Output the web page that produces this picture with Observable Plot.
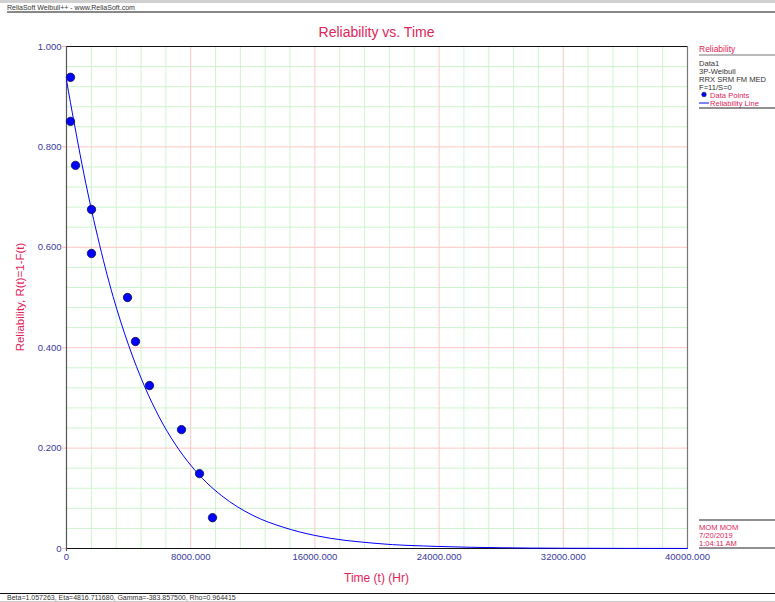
<!DOCTYPE html>
<html>
<head>
<meta charset="utf-8">
<script src="https://cdn.jsdelivr.net/npm/d3@7"></script>
<script src="https://cdn.jsdelivr.net/npm/@observablehq/plot@0.6"></script>
<style>
  html, body { margin: 0; padding: 0; background: #fff; }
  svg { display: block; }
</style>
</head>
<body>
<div id="chart"></div>
<script>
// ---- data ----
const pointTimes = [258, 258, 580, 1610, 1610, 3930, 4444, 5346, 7407, 8567, 9404];
const pointRel   = [0.9386, 0.8509, 0.7632, 0.6754, 0.5877, 0.5000, 0.4123, 0.3246, 0.2368, 0.1491, 0.0614];

const lineTimes = [0, 250, 500, 1000, 1500, 2000, 2500, 3000, 4000, 5000, 6000, 7000, 8000, 9000, 10000, 12000, 14000, 16000, 20000, 24000, 28000, 32000, 40000];
const lineRel   = [0.933, 0.889, 0.847, 0.765, 0.690, 0.622, 0.559, 0.502, 0.405, 0.325, 0.260, 0.208, 0.166, 0.132, 0.105, 0.066, 0.042, 0.026, 0.010, 0.004, 0.0015, 0.0005, 0.0001];

const xMajorTicks = [0, 8000, 16000, 24000, 32000, 40000];
const xTickLabels = ["0", "8000.000", "16000.000", "24000.000", "32000.000", "40000.000"];
const yMajorTicks = [0, 0.2, 0.4, 0.6, 0.8, 1.0];
const yTickLabels = ["0", "0.200", "0.400", "0.600", "0.800", "1.000"];
const xMinorStep = 1600;
const yMinorStep = 0.04;

const titleText = "Reliability vs. Time";
const xLabel = "Time (t) (Hr)";
const yLabel = "Reliability, R(t)=1-F(t)";
const headerText = "ReliaSoft Weibull++ - www.ReliaSoft.com";
const footerText = "Beta=1.057263, Eta=4816.711680, Gamma=-383.857500, Rho=0.964415";
const legendTitle = "Reliability";
const legendInfo = ["Data1", "3P-Weibull", "RRX SRM FM MED", "F=11/S=0"];
const legendItems = ["Data Points", "Reliability Line"];
const stampLines = ["MOM MOM", "7/20/2019", "1:04:11 AM"];

// ---- derived tables ----
const points = pointTimes.map((t, i) => ({t, r: pointRel[i]}));
const curve = lineTimes.map((t, i) => ({t, r: lineRel[i]}));
const xMinor = d3.range(xMinorStep, 40000, xMinorStep).filter(v => v % 8000 !== 0);
const xMajorGrid = xMajorTicks.filter(v => v > 0 && v < 40000);
const yMinor = d3.range(1, 25).map(i => +(i * yMinorStep).toFixed(2)).filter(v => Math.abs(v / 0.2 - Math.round(v / 0.2)) > 1e-6);
const yMajorGrid = yMajorTicks.filter(v => v > 0 && v < 1);

const CRIMSON = "#e0245a";
const NAVY = "#3a3a9e";
const FONT = "Liberation Sans, Arial, sans-serif";

const chart = Plot.plot({
  width: 775,
  height: 602,
  marginLeft: 66,
  marginRight: 88,
  marginTop: 46,
  marginBottom: 54,
  style: {fontFamily: FONT, fontSize: "9.5px", background: "#fff"},
  x: {domain: [0, 40000], label: null},
  y: {domain: [0, 1], label: null},
  marks: [
    Plot.gridX(xMinor, {stroke: "#cdf5cd", strokeOpacity: 1}),
    Plot.gridY(yMinor, {stroke: "#cdf5cd", strokeOpacity: 1}),
    Plot.gridX(xMajorGrid, {stroke: "#ffc6c6", strokeOpacity: 1}),
    Plot.gridY(yMajorGrid, {stroke: "#ffc6c6", strokeOpacity: 1}),
    Plot.axisX(xMajorTicks, {
      tickSize: 0, tickPadding: 5,
      tickFormat: d => xTickLabels[xMajorTicks.indexOf(d)],
      fill: NAVY, stroke: NAVY, label: null
    }),
    Plot.axisY(yMajorTicks, {
      tickSize: 4, tickPadding: 1,
      tickFormat: d => yTickLabels[yMajorTicks.indexOf(d)],
      fill: NAVY, stroke: "#ffb4b4", label: null
    }),
    Plot.ruleY([1], {stroke: "#111", strokeWidth: 1.2}),
    Plot.ruleX([40000], {stroke: "#777", strokeWidth: 1.2}),
    Plot.ruleY([0], {stroke: "#111", strokeWidth: 1.2}),
    Plot.ruleX([0], {stroke: "#555", strokeWidth: 1.2, y1: -0.006, y2: 1}),
    Plot.line(curve, {x: "t", y: "r", stroke: "#0000ff", strokeWidth: 1, curve: "monotone-x"}),
    Plot.dot(points, {x: "t", y: "r", r: 4.2, fill: "#0000ff", stroke: "#101040", strokeWidth: 0.8})
  ]
});

document.getElementById("chart").appendChild(chart);

// ---- annotations ----
const svg = d3.select(chart);

function addText(x, y, s, size, fill, anchor = "start") {
  return svg.append("text")
    .attr("x", x).attr("y", y)
    .attr("text-anchor", anchor)
    .attr("font-size", size)
    .attr("font-family", FONT)
    .attr("fill", fill)
    .text(s);
}

// top header band
svg.append("rect").attr("x", 0).attr("y", 0).attr("width", 775).attr("height", 3).attr("fill", "#d0d0d0");
addText(7, 9.5, headerText, "7px", "#333");
svg.append("line").attr("x1", 7).attr("x2", 775).attr("y1", 12).attr("y2", 12).attr("stroke", "#111").attr("stroke-width", 1);

// title
addText(376.5, 37, titleText, "14px", CRIMSON, "middle");

// axis labels
addText(376.5, 582, xLabel, "12px", CRIMSON, "middle");
addText(0, 0, yLabel, "11.5px", CRIMSON, "middle").attr("x", null).attr("y", null)
  .attr("transform", "translate(24,297) rotate(-90)");

// legend
const lx = 699;
addText(lx, 52, legendTitle, "8.5px", CRIMSON);
svg.append("line").attr("x1", lx).attr("x2", 775).attr("y1", 55).attr("y2", 55).attr("stroke", "#777").attr("stroke-width", 1.2);
legendInfo.forEach((s, i) => addText(lx, 65.5 + i * 8, s, "7.6px", "#333"));
svg.append("circle").attr("cx", 704).attr("cy", 94.5).attr("r", 2.3).attr("fill", "#0000ff").attr("stroke", "#101040").attr("stroke-width", 0.6);
addText(710, 97.5, legendItems[0], "7.6px", CRIMSON);
svg.append("line").attr("x1", lx).attr("x2", 709).attr("y1", 103).attr("y2", 103).attr("stroke", "#0000ff").attr("stroke-width", 1);
addText(710, 105.5, legendItems[1], "7.6px", CRIMSON);
svg.append("line").attr("x1", lx).attr("x2", 775).attr("y1", 108).attr("y2", 108).attr("stroke", "#222").attr("stroke-width", 1);

// stamp block
svg.append("line").attr("x1", lx).attr("x2", 775).attr("y1", 520).attr("y2", 520).attr("stroke", "#222").attr("stroke-width", 1);
stampLines.forEach((s, i) => addText(lx, 530 + i * 8, s, "7.6px", CRIMSON));
svg.append("line").attr("x1", lx).attr("x2", 775).attr("y1", 548).attr("y2", 548).attr("stroke", "#222").attr("stroke-width", 1);

// footer
svg.append("line").attr("x1", 0).attr("x2", 775).attr("y1", 593.5).attr("y2", 593.5).attr("stroke", "#111").attr("stroke-width", 1);
addText(7, 599.5, footerText, "7px", "#333");
svg.append("rect").attr("x", 0).attr("y", 601).attr("width", 775).attr("height", 1).attr("fill", "#c8c8c8");
</script>
</body>
</html>
